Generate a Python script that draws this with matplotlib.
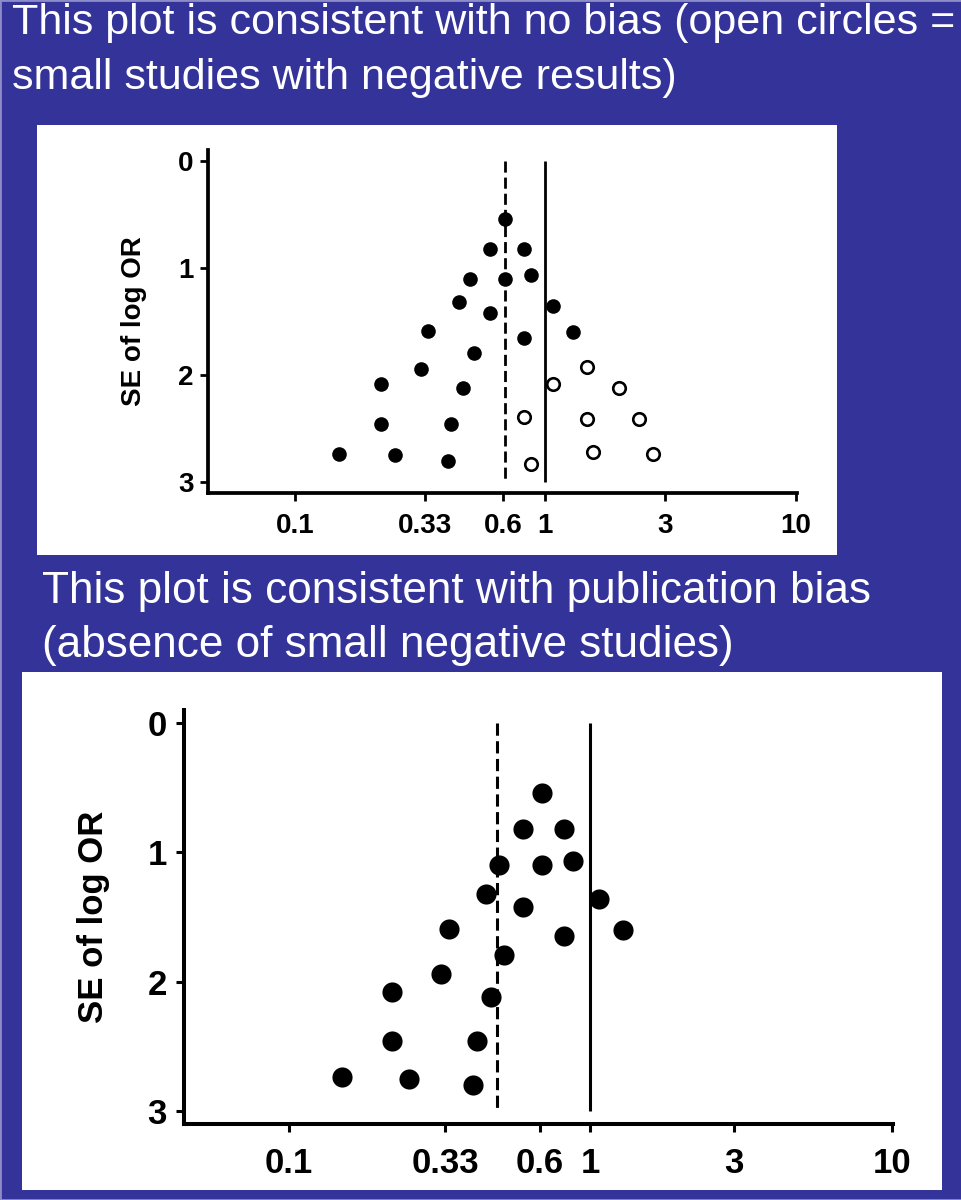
import matplotlib.pyplot as plt
from matplotlib.patches import Rectangle

# study estimates (odds ratio, SE of log OR)
or_filled = [0.69, 0.60, 0.82, 0.50, 0.69, 0.88, 0.45, 0.60, 1.07, 0.34, 0.82,
             1.29, 0.52, 0.32, 0.22, 0.47, 0.22, 0.42, 0.15, 0.25, 0.41]
se_filled = [0.54, 0.82, 0.82, 1.10, 1.10, 1.07, 1.32, 1.42, 1.36, 1.59, 1.65,
             1.60, 1.79, 1.94, 2.08, 2.12, 2.46, 2.46, 2.74, 2.75, 2.80]

# small negative studies (open circles), only in the "no bias" plot
or_open = [1.47, 1.07, 1.97, 0.82, 1.46, 2.37, 1.55, 2.69, 0.88]
se_open = [1.92, 2.08, 2.12, 2.39, 2.41, 2.41, 2.72, 2.74, 2.83]

pooled_all = 0.69      # dashed line, top plot
pooled_biased = 0.49   # dashed line, bottom plot
null_or = 1

x_ticks = [0.1, 0.33, 0.68, 1, 3, 10]
x_ticklabels = ['0.1', '0.33', '0.6', '1', '3', '10']
y_ticks = [0, 1, 2, 3]

title_top = ["This plot is consistent with no bias (open circles =",
             "small studies with negative results)"]
title_bottom = ["This plot is consistent with publication bias",
                "(absence of small negative studies)"]

BLUE = '#333399'
W, H = 962, 1200

plt.rcParams['font.family'] = ['Liberation Sans', 'DejaVu Sans']


def px_rect(x0, y0, x1, y1):
    # pixel box (top-left origin) -> figure fraction [l, b, w, h]
    return [x0 / W, 1 - y1 / H, (x1 - x0) / W, (y1 - y0) / H]


def funnel(ax, pooled, show_open, dot, ring, tick_fs, label_fs, lw,
           labelpad, xpad, ypad):
    ax.set_xscale('log')
    ax.vlines(pooled, 0, 3, colors='black', linestyles=(0, (4, 1.8)), lw=lw)
    ax.vlines(null_or, 0, 3, colors='black', lw=lw)
    ax.plot(or_filled, se_filled, 'o', ms=dot, color='black', mew=0)
    if show_open:
        ax.plot(or_open, se_open, 'o', ms=ring, mfc='white', mec='black', mew=1.9)
    ax.set_xlim(0.045, 10.1)
    ax.set_ylim(3.1, -0.1)
    ax.set_xticks(x_ticks)
    ax.set_xticklabels(x_ticklabels)
    ax.minorticks_off()
    ax.set_yticks(y_ticks)
    for s in ['top', 'right']:
        ax.spines[s].set_visible(False)
    for s in ['left', 'bottom']:
        ax.spines[s].set_linewidth(lw + 0.7)
    ax.tick_params(width=lw, length=5.5, labelsize=tick_fs)
    ax.tick_params(axis='x', pad=xpad)
    ax.tick_params(axis='y', pad=ypad)
    for t in ax.get_xticklabels() + ax.get_yticklabels():
        t.set_fontweight('bold')
    ax.set_ylabel('SE of log OR', fontsize=label_fs, fontweight='bold', labelpad=labelpad)
    ax.set_facecolor('none')


fig = plt.figure(figsize=(9.62, 12), dpi=100, facecolor=BLUE)

# white panels behind each plot
for box in [(37, 125, 837, 555), (22, 672, 942, 1190)]:
    l, b, w, h = px_rect(*box)
    fig.patches.append(Rectangle((l, b), w, h, transform=fig.transFigure,
                                 facecolor='white', edgecolor='none', zorder=-2))
# thin light frame round the slide
fig.patches.append(Rectangle((0, 0), 1, 1, transform=fig.transFigure,
                             facecolor='none', edgecolor='#8c8cc8', lw=2, zorder=-1))

for i, line in enumerate(title_top):
    fig.text(12 / W, 1 - (34 + 55 * i) / H, line, color='white', fontsize=31,
             ha='left', va='baseline')
for i, line in enumerate(title_bottom):
    fig.text(42 / W, 1 - (603 + 54 * i) / H, line, color='white', fontsize=31.8,
             ha='left', va='baseline')

ax1 = fig.add_axes(px_rect(208, 150, 797, 493))
funnel(ax1, pooled_all, True, dot=10.5, ring=9, tick_fs=20, label_fs=20, lw=2.0,
       labelpad=22, xpad=9, ypad=5)

ax2 = fig.add_axes(px_rect(184, 710, 893, 1124))
funnel(ax2, pooled_biased, False, dot=14.5, ring=0, tick_fs=25, label_fs=25, lw=2.2,
       labelpad=27, xpad=11, ypad=7)

fig.savefig('out.png', dpi=100, facecolor=BLUE)
